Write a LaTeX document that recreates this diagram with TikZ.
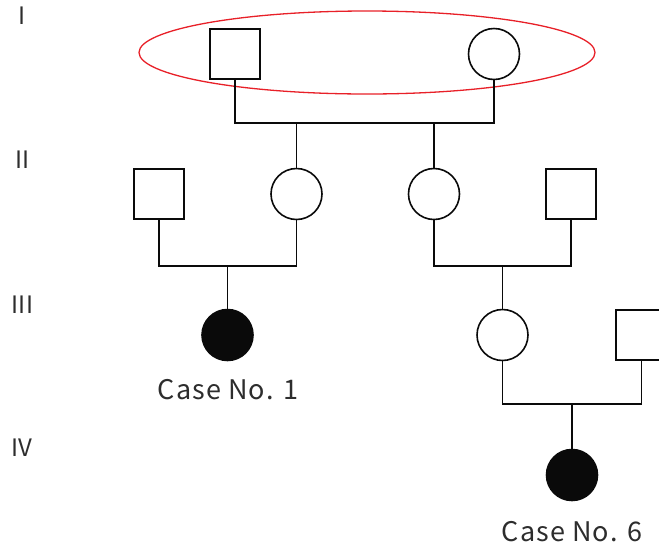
\documentclass[tikz,border=0pt]{standalone}
\usepackage{fontspec}
\usetikzlibrary{shapes.geometric}
\newfontfamily\jpfont{Noto Sans CJK JP}
\newfontfamily\casefont[LetterSpace=4]{Noto Sans CJK JP}
\definecolor{mark}{RGB}{232,32,40}
\definecolor{ink}{RGB}{10,10,10}
\definecolor{txt}{RGB}{45,45,45}
\tikzset{
  line/.style={line width=1.6pt, draw=ink},
  male/.style={rectangle, line, fill=white, minimum size=50.5pt, inner sep=0pt},
  female/.style={circle, line, fill=white, minimum size=51pt, inner sep=0pt},
  affected/.style={circle, draw=ink, fill=ink, line width=1.6pt, minimum size=51pt, inner sep=0pt},
  gen/.style={font=\jpfont\fontsize{24}{24}\selectfont, text=txt, inner sep=0pt},
  caselbl/.style={font=\casefont\fontsize{27}{27}\selectfont, text=txt, inner sep=0pt},
}
\begin{document}
\begin{tikzpicture}[x=1pt,y=-1pt]
\useasboundingbox (0,0) rectangle (659,550);
% generation labels
\node[gen] (g1) at (22,16) {I};
\node[gen] (g2) at (22.5,160) {II};
\node[gen] (g3) at (22.5,305) {III};
\node[gen] (g4) at (22,448) {IV};
% generation I
\node[ellipse, draw=mark, line width=1.3pt, minimum width=456pt, minimum height=83pt, inner sep=0pt] (fam) at (367,52.5) {};
\node[male] (I1) at (235,54) {};
\node[female] (I2) at (494,54) {};
\coordinate (m1) at (364.5,123);
% generation II
\node[male] (II1) at (159,194) {};
\node[female] (II2) at (296.5,194) {};
\node[female] (II3) at (434,194) {};
\node[male] (II4) at (571,194) {};
\coordinate (m2) at (227.5,266);
\coordinate (m3) at (502.5,266);
% generation III
\node[affected] (III1) at (227.5,335) {};
\node[female] (III2) at (502.5,335) {};
\node[male] (III3) at (641.5,335) {};
\coordinate (m4) at (572,404);
% generation IV
\node[affected] (IV1) at (572,475) {};
% labels
\node[caselbl] (c1) at (228,390) {Case No. 1};
\node[caselbl] (c6) at (572,532) {Case No. 6};
% connectors
\draw[line] (I1.south) |- (m1 -| I2.south) -- (I2.south);
\draw[line] (II2.north) -- (II2.north |- m1);
\draw[line] (II3.north) -- (II3.north |- m1);
\draw[line] (II1.south) |- (m2 -| II2.south) -- (II2.south);
\draw[line] (III1.north) -- (III1.north |- m2);
\draw[line] (II3.south) |- (m3 -| II4.south) -- (II4.south);
\draw[line] (III2.north) -- (III2.north |- m3);
\draw[line] (III2.south) |- (m4 -| III3.south) -- (III3.south);
\draw[line] (IV1.north) -- (IV1.north |- m4);
\end{tikzpicture}
\end{document}
